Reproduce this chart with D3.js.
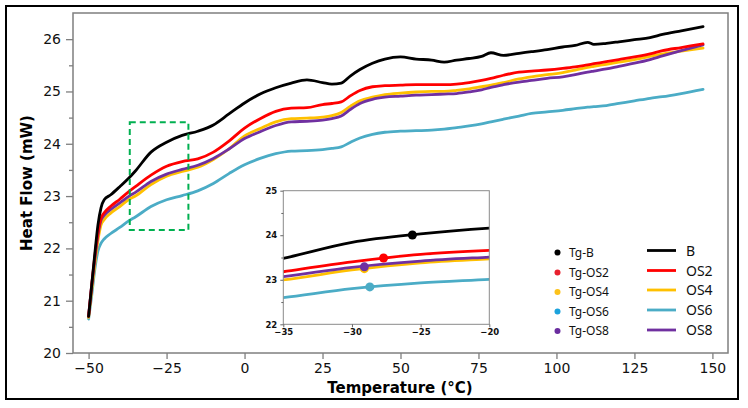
<!DOCTYPE html>
<html><head><meta charset="utf-8">
<script src="https://cdn.jsdelivr.net/npm/d3@7"></script>
<style>
html,body{margin:0;padding:0;background:#fff;}
svg{display:block;}
text{font-family:"DejaVu Sans",sans-serif;}
</style></head>
<body>
<svg id="c" width="748" height="408"></svg>
<script>
// ---------- data ----------
const temps = [-50,-49,-48,-47,-46,-45,-43,-40,-37,-35,-30,-25,-20,-15,-10,-5,0,5,10,15,20,25,28,31,34,37,41,45,50,55,60,64,68,72,76,79,83,88,92,97,102,106,110,112,116,120,125,130,134,140,147];
const seriesNames = ["B","OS2","OS4","OS6","OS8"];
const seriesColors = ["#000000","#ff0000","#ffc000","#4bacc6","#7030a0"];
const valuesB   = [20.70,21.30,21.90,22.45,22.78,22.93,23.02,23.18,23.35,23.48,23.84,24.03,24.16,24.24,24.36,24.57,24.78,24.95,25.07,25.16,25.22,25.17,25.14,25.16,25.30,25.42,25.54,25.62,25.66,25.62,25.60,25.56,25.60,25.63,25.67,25.74,25.69,25.73,25.76,25.80,25.85,25.88,25.94,25.90,25.92,25.95,25.99,26.03,26.09,26.16,26.24];
const valuesOS2 = [20.70,21.30,21.85,22.30,22.58,22.68,22.80,22.94,23.09,23.18,23.40,23.57,23.66,23.71,23.84,24.05,24.30,24.48,24.62,24.68,24.69,24.75,24.77,24.80,24.92,25.02,25.09,25.11,25.12,25.13,25.13,25.13,25.14,25.17,25.21,25.25,25.31,25.37,25.39,25.41,25.44,25.47,25.51,25.53,25.57,25.61,25.66,25.72,25.78,25.84,25.91];
const valuesOS4 = [20.68,21.20,21.70,22.15,22.45,22.55,22.67,22.80,22.94,23.00,23.22,23.38,23.47,23.55,23.70,23.90,24.15,24.29,24.42,24.48,24.49,24.51,24.54,24.60,24.72,24.82,24.89,24.94,24.97,24.99,25.00,25.00,25.02,25.05,25.09,25.12,25.17,25.24,25.28,25.32,25.36,25.41,25.46,25.48,25.52,25.56,25.61,25.67,25.72,25.77,25.83];
const valuesOS6 = [20.65,21.10,21.60,21.95,22.10,22.18,22.28,22.40,22.53,22.60,22.80,22.93,23.01,23.10,23.24,23.43,23.60,23.72,23.81,23.86,23.87,23.89,23.91,23.94,24.03,24.11,24.18,24.22,24.24,24.25,24.26,24.28,24.31,24.34,24.38,24.42,24.47,24.53,24.58,24.61,24.64,24.67,24.70,24.71,24.73,24.77,24.82,24.87,24.90,24.96,25.04];
const valuesOS8 = [20.72,21.30,21.80,22.25,22.54,22.63,22.74,22.87,23.00,23.07,23.28,23.42,23.51,23.59,23.72,23.90,24.10,24.23,24.35,24.42,24.43,24.45,24.48,24.53,24.66,24.77,24.85,24.89,24.91,24.93,24.94,24.95,24.96,24.99,25.03,25.08,25.13,25.18,25.21,25.25,25.28,25.32,25.37,25.39,25.43,25.48,25.54,25.61,25.68,25.78,25.89];
const seriesValues = [valuesB, valuesOS2, valuesOS4, valuesOS6, valuesOS8];

// Tg points (temperature, heat flow)
const tgNames = ["Tg-B","Tg-OS2","Tg-OS4","Tg-OS6","Tg-OS8"];
const tgTemps = [-25.6,-27.7,-29.1,-28.7,-29.1];
const tgFlows = [24.005,23.49,23.25,22.84,23.29];
const tgLegendColors = ["#000000","#e8202e","#fcc21b","#1ba2dc","#6a2d9f"];

const xTicks = [-50,-25,0,25,50,75,100,125,150];
const yTicks = [20,21,22,23,24,25,26];
const yMinorTicks = [20.5,21.5,22.5,23.5,24.5,25.5,26.5];
const insetXTicks = [-35,-30,-25,-20];
const insetYTicks = [22,23,24,25];
const insetYMinor = [22.5,23.5,24.5];
const zoomBox = {t0:-36.8, t1:-18, f0:22.35, f1:24.41};

// ---------- drawing ----------
const svg = d3.select("#c");
const fmt = d => (d < 0 ? "\u2212" + Math.abs(d) : String(d));

// outer border
svg.append("rect").attr("x",6).attr("y",6).attr("width",732).attr("height",393)
  .attr("fill","none").attr("stroke","#000").attr("stroke-width",2);

const L=73, R=728, T=13, B=353;
const x = d3.scaleLinear().domain([-55,155]).range([L,R]);
const y = d3.scaleLinear().domain([20,26.5]).range([B,T]);

svg.append("defs").append("clipPath").attr("id","mainclip")
  .append("rect").attr("x",L).attr("y",T).attr("width",R-L).attr("height",B-T);

const spineColor = "#7f7f7f";

// axes
const gx = svg.append("g").attr("transform",`translate(0,${B})`)
  .call(d3.axisBottom(x).tickValues(xTicks).tickFormat(fmt).tickSizeOuter(0).tickSize(6).tickPadding(4));
const gy = svg.append("g").attr("transform",`translate(${L},0)`)
  .call(d3.axisLeft(y).tickValues(yTicks).tickFormat(d=>d).tickSizeOuter(0).tickSize(7).tickPadding(5));
const gym = svg.append("g").attr("transform",`translate(${L},0)`)
  .call(d3.axisLeft(y).tickValues(yMinorTicks).tickFormat("").tickSizeOuter(0).tickSize(4));
[gx,gy,gym].forEach(g=>{
  g.select(".domain").remove();
  g.selectAll(".tick line").attr("stroke",spineColor).attr("stroke-width",1.3);
  g.selectAll(".tick text").attr("fill","#111").style("font-size","14px").style("font-family","DejaVu Sans");
});
gym.selectAll(".tick").filter(d=>d>26.4).remove();

// spines
svg.append("rect").attr("x",L).attr("y",T).attr("width",R-L).attr("height",B-T)
  .attr("fill","none").attr("stroke",spineColor).attr("stroke-width",1.5);

// axis titles
svg.append("text").attr("x",400).attr("y",393).attr("text-anchor","middle")
  .style("font-weight","bold").style("font-size","15px").text("Temperature (°C)");
svg.append("text").attr("transform","translate(32,183) rotate(-90)").attr("text-anchor","middle")
  .style("font-weight","bold").style("font-size","15px").text("Heat Flow (mW)");

// main lines
const line = d3.line().curve(d3.curveMonotoneX);
const mainG = svg.append("g").attr("clip-path","url(#mainclip)");
const order = [3,2,4,1,0];
order.forEach(i=>{
  const pts = temps.map((t,k)=>[x(t), y(seriesValues[i][k])]);
  mainG.append("path").attr("d",line(pts)).attr("fill","none")
    .attr("stroke",seriesColors[i]).attr("stroke-width",2.8).attr("stroke-linejoin","round").attr("stroke-linecap","round");
});

// zoom box
svg.append("rect").attr("x",x(zoomBox.t0)).attr("y",y(zoomBox.f1))
  .attr("width",x(zoomBox.t1)-x(zoomBox.t0)).attr("height",y(zoomBox.f0)-y(zoomBox.f1))
  .attr("fill","none").attr("stroke","#00b050").attr("stroke-width",2).attr("stroke-dasharray","6,4");

// inset
const iL=283.3, iR=489.3, iT=190.7, iB=324.3;
const ix = d3.scaleLinear().domain([-35,-20]).range([iL,iR]);
const iy = d3.scaleLinear().domain([22,25]).range([iB,iT]);
svg.select("defs").append("clipPath").attr("id","insetclip")
  .append("rect").attr("x",iL).attr("y",iT).attr("width",iR-iL).attr("height",iB-iT);
svg.append("rect").attr("x",iL).attr("y",iT).attr("width",iR-iL).attr("height",iB-iT).attr("fill","#fff");
const insetG = svg.append("g").attr("clip-path","url(#insetclip)");
order.forEach(i=>{
  const pts = temps.map((t,k)=>[ix(t), iy(seriesValues[i][k])]);
  insetG.append("path").attr("d",line(pts)).attr("fill","none")
    .attr("stroke",seriesColors[i]).attr("stroke-width",2.8).attr("stroke-linejoin","round");
});
[0,1,2,3,4].forEach(i=>{
  insetG.append("circle").attr("cx",ix(tgTemps[i])).attr("cy",iy(tgFlows[i])).attr("r",4.5)
    .attr("fill",seriesColors[i]);
});
svg.append("rect").attr("x",iL).attr("y",iT).attr("width",iR-iL).attr("height",iB-iT)
  .attr("fill","none").attr("stroke","#8a8a8a").attr("stroke-width",1);
const igx = svg.append("g").attr("transform",`translate(0,${iB})`)
  .call(d3.axisBottom(ix).tickValues(insetXTicks).tickFormat(fmt).tickSizeOuter(0).tickSize(3).tickPadding(2));
const igy = svg.append("g").attr("transform",`translate(${iL},0)`)
  .call(d3.axisLeft(iy).tickValues(insetYTicks).tickFormat(d=>d).tickSizeOuter(0).tickSize(3).tickPadding(3));
const igym = svg.append("g").attr("transform",`translate(${iL},0)`)
  .call(d3.axisLeft(iy).tickValues(insetYMinor).tickFormat("").tickSizeOuter(0).tickSize(2));
[igx,igy,igym].forEach(g=>{
  g.select(".domain").remove();
  g.selectAll(".tick line").attr("stroke","#666").attr("stroke-width",1);
  g.selectAll(".tick text").attr("fill","#111").style("font-size","8.5px").style("font-weight","bold");
});

// legend
const dotRows = [252.5,272.5,292,311.5,331];
const lineRows = [250.5,270.5,290,310,330];
tgNames.forEach((n,i)=>{
  svg.append("circle").attr("cx",557.5).attr("cy",dotRows[i]).attr("r",3).attr("fill",tgLegendColors[i]);
  svg.append("text").attr("x",569).attr("y",dotRows[i]).attr("dy","0.35em")
    .style("font-family","Noto Sans").style("font-size","12px").attr("fill","#111").text(n);
});
seriesNames.forEach((n,i)=>{
  svg.append("line").attr("x1",647).attr("x2",676).attr("y1",lineRows[i]).attr("y2",lineRows[i])
    .attr("stroke",seriesColors[i]).attr("stroke-width",2.8);
  svg.append("text").attr("x",686).attr("y",lineRows[i]).attr("dy","0.36em")
    .style("font-family","Noto Sans").style("font-size","14px").attr("fill","#111").text(n);
});
</script>
</body></html>
